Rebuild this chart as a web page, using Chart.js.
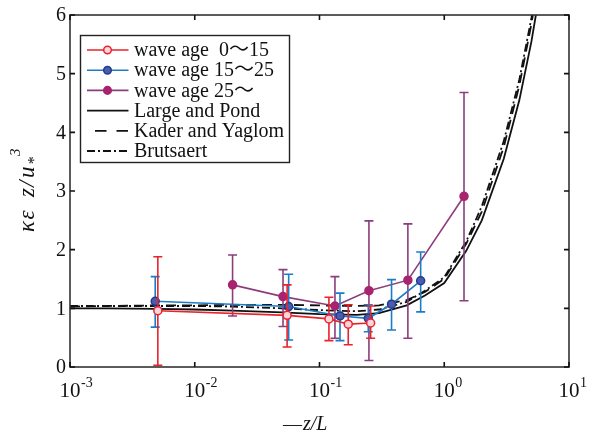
<!DOCTYPE html>
<html><head><meta charset="utf-8">
<script src="https://cdn.jsdelivr.net/npm/chart.js@4/dist/chart.umd.min.js"></script>
<style>html,body{margin:0;padding:0;background:#fff;}canvas{display:block;}</style>
</head><body>
<canvas id="c" width="593" height="437"></canvas>
<script>
// ---- data ----
const xTicks = [0.001, 0.01, 0.1, 1, 10];
const xTickExponents = ['-3', '-2', '-1', '0', '1'];
const yTicks = [0, 1, 2, 3, 4, 5, 6];

const seriesNames = ['wave age\u00a0 0\uFF5E15', 'wave age 15\uFF5E25', 'wave age 25\uFF5E'];
const curveNames = ['Large and Pond', 'Kader and Yaglom', 'Brutsaert'];

const redX  = [0.00506, 0.055, 0.119, 0.17, 0.257];
const redY  = [0.96, 0.88, 0.82, 0.73, 0.75];
const redHi = [1.88, 1.40, 1.19, 1.06, 1.04];
const redLo = [0.03, 0.34, 0.45, 0.38, 0.49];

const blueX  = [0.00482, 0.0566, 0.146, 0.246, 0.378, 0.647];
const blueY  = [1.12, 1.03, 0.87, 0.83, 1.07, 1.47];
const blueHi = [1.54, 1.58, 1.26, 1.06, 1.49, 1.96];
const blueLo = [0.68, 0.46, 0.45, 0.60, 0.63, 0.94];

const purpleX  = [0.0201, 0.051, 0.133, 0.249, 0.511, 1.44];
const purpleY  = [1.40, 1.20, 1.04, 1.30, 1.48, 2.91];
const purpleHi = [1.91, 1.66, 1.54, 2.49, 2.44, 4.68];
const purpleLo = [0.87, 0.69, 0.49, 0.11, 0.49, 1.13];

const curveX = [0.001, 0.002, 0.005, 0.01, 0.02, 0.05, 0.1, 0.2, 0.3, 0.5, 0.7, 1, 1.5, 2, 3, 4, 5, 6];
const largePondY   = [1.00, 1.00, 0.99, 0.98, 0.96, 0.93, 0.90, 0.89, 0.92, 1.05, 1.22, 1.43, 1.98, 2.50, 3.55, 4.55, 5.55, 6.55];
const kaderYaglomY = [1.03, 1.04, 1.05, 1.05, 1.06, 1.06, 1.05, 1.04, 1.05, 1.14, 1.28, 1.50, 2.10, 2.65, 3.75, 4.80, 5.85, 6.90];
const brutsaertY   = [1.04, 1.04, 1.04, 1.04, 1.03, 1.00, 0.97, 0.95, 0.98, 1.11, 1.30, 1.53, 2.14, 2.74, 3.85, 4.90, 5.95, 7.00];

// ---- styles ----
const RED = '#e8232b', BLUE = '#1c7cc8', PURPLE = '#8c3d7c';
const SERIF = '"Liberation Serif", "Times New Roman", "Noto Sans CJK SC", serif';

const pts = (xs, ys) => xs.map((v, i) => ({x: v, y: ys[i]}));

const errSets = {
  0: {x: redX, lo: redLo, hi: redHi, color: RED},
  1: {x: blueX, lo: blueLo, hi: blueHi, color: BLUE},
  2: {x: purpleX, lo: purpleLo, hi: purpleHi, color: PURPLE}
};

const errorBarPlugin = {
  id: 'errorBars',
  beforeDatasetDraw(chart, args) {
    const s = errSets[args.index];
    if (!s) return;
    const {ctx, chartArea: a, scales: {x, y}} = chart;
    ctx.save();
    ctx.beginPath(); ctx.rect(a.left, a.top, a.right - a.left, a.bottom - a.top); ctx.clip();
    ctx.strokeStyle = s.color; ctx.lineWidth = 1.6;
    s.x.forEach((xv, i) => {
      const px = x.getPixelForValue(xv);
      const pl = y.getPixelForValue(s.lo[i]), ph = y.getPixelForValue(s.hi[i]);
      ctx.beginPath();
      ctx.moveTo(px, pl); ctx.lineTo(px, ph);
      ctx.moveTo(px - 4.5, pl); ctx.lineTo(px + 4.5, pl);
      ctx.moveTo(px - 4.5, ph); ctx.lineTo(px + 4.5, ph);
      ctx.stroke();
    });
    ctx.restore();
  }
};

const decorPlugin = {
  id: 'decor',
  afterDraw(chart) {
    const {ctx, chartArea: a, scales: {x, y}} = chart;
    ctx.save();
    // frame
    ctx.strokeStyle = '#333'; ctx.lineWidth = 1.6;
    ctx.strokeRect(a.left, a.top, a.right - a.left, a.bottom - a.top);
    // ticks (inside)
    ctx.strokeStyle = '#111'; ctx.lineWidth = 1.6;
    ctx.beginPath();
    xTicks.forEach(v => {
      const px = x.getPixelForValue(v);
      ctx.moveTo(px, a.bottom); ctx.lineTo(px, a.bottom - 5);
      ctx.moveTo(px, a.top); ctx.lineTo(px, a.top + 5);
    });
    yTicks.forEach(v => {
      const py = y.getPixelForValue(v);
      ctx.moveTo(a.left, py); ctx.lineTo(a.left + 5, py);
      ctx.moveTo(a.right, py); ctx.lineTo(a.right - 5, py);
    });
    ctx.stroke();

    // y tick labels
    ctx.fillStyle = '#111';
    ctx.font = '20px ' + SERIF;
    ctx.textAlign = 'right'; ctx.textBaseline = 'middle';
    yTicks.forEach(v => ctx.fillText(String(v), a.left - 4, y.getPixelForValue(v) + 1));

    // x tick labels 10^n
    xTicks.forEach((v, i) => {
      const px = x.getPixelForValue(v);
      ctx.font = '21px ' + SERIF;
      ctx.textAlign = 'center'; ctx.textBaseline = 'alphabetic';
      const w = ctx.measureText('10').width;
      ctx.fillText('10', px, a.bottom + 30);
      ctx.font = '14px ' + SERIF;
      ctx.textAlign = 'left';
      ctx.fillText(xTickExponents[i], px + w / 2 + 0.5, a.bottom + 20);
    });

    // x title
    ctx.textBaseline = 'alphabetic'; ctx.textAlign = 'left';
    ctx.font = '19px ' + SERIF;
    const dashW = ctx.measureText('\u2014').width;
    const tx = 283;
    ctx.fillText('\u2014', tx, 430);
    ctx.font = 'italic 20px ' + SERIF;
    ctx.fillText('z/L', tx + dashW + 1, 430);

    // y title (rotated), glyphs spaced as in the reference
    ctx.save();
    ctx.translate(34, 232);
    ctx.rotate(-Math.PI / 2);
    ctx.textAlign = 'left';
    ctx.font = 'italic 23px ' + SERIF;
    const glyphs = [['\u03BA', 0], ['\u03B5', 12.5], ['z', 35], ['/', 45], ['u', 54]];
    glyphs.forEach(([g, off]) => ctx.fillText(g, off, 0));
    ctx.font = 'italic 16px ' + SERIF;
    ctx.fillText('*', 67, 5);
    ctx.font = 'italic 15px ' + SERIF;
    ctx.fillText('3', 76, -14);
    ctx.restore();

    // legend
    const L = 80.5, T = 35.5, R = 289.5, B = 162.5;
    ctx.fillStyle = '#fff';
    ctx.fillRect(L, T, R - L, B - T);
    ctx.strokeStyle = '#222'; ctx.lineWidth = 1.4;
    ctx.strokeRect(L, T, R - L, B - T);
    const rows = [
      {label: seriesNames[0], color: RED, marker: 'open'},
      {label: seriesNames[1], color: BLUE, marker: 'blue'},
      {label: seriesNames[2], color: PURPLE, marker: 'purple'},
      {label: curveNames[0], color: '#111', dash: []},
      {label: curveNames[1], color: '#111', dash: [11.5, 10], offset: -8},
      {label: curveNames[2], color: '#111', dash: [8, 3, 2, 3]}
    ];
    rows.forEach((r, i) => {
      const cy = 50 + i * 20.2;
      ctx.save();
      ctx.strokeStyle = r.color; ctx.lineWidth = r.marker ? 1.6 : 1.8;
      ctx.setLineDash(r.dash || []);
      ctx.lineDashOffset = r.offset || 0;
      ctx.beginPath(); ctx.moveTo(87, cy); ctx.lineTo(128.5, cy); ctx.stroke();
      ctx.restore();
      if (r.marker) {
        ctx.save();
        ctx.beginPath(); ctx.arc(107.5, cy, 3.8, 0, Math.PI * 2);
        if (r.marker === 'open') { ctx.fillStyle = '#fbd3dc'; ctx.strokeStyle = RED; }
        else if (r.marker === 'blue') { ctx.fillStyle = '#4a5cae'; ctx.strokeStyle = '#243a8c'; }
        else { ctx.fillStyle = '#a8246f'; ctx.strokeStyle = '#a8246f'; }
        ctx.lineWidth = 1.5; ctx.fill(); ctx.stroke();
        ctx.restore();
      }
      ctx.fillStyle = '#111';
      ctx.font = '20px ' + SERIF;
      ctx.textAlign = 'left'; ctx.textBaseline = 'middle';
      ctx.fillText(r.label, 134, cy + 1);
    });
    ctx.restore();
  }
};

const dataLine = (label, xs, ys, color, fill, border) => ({
  label, data: pts(xs, ys), borderColor: color, borderWidth: 1.6,
  pointRadius: 4, pointBorderWidth: 1.5, pointBackgroundColor: fill, pointBorderColor: border,
  tension: 0, fill: false
});
const curve = (label, xs, ys, dash) => ({
  label, data: pts(xs, ys), borderColor: '#111', borderWidth: 1.8, borderDash: dash,
  pointRadius: 0, tension: 0, fill: false
});

new Chart(document.getElementById('c'), {
  type: 'line',
  data: {
    datasets: [
      dataLine(seriesNames[0], redX, redY, RED, '#fbd3dc', RED),
      dataLine(seriesNames[1], blueX, blueY, BLUE, '#4a5cae', '#243a8c'),
      dataLine(seriesNames[2], purpleX, purpleY, PURPLE, '#a8246f', '#a8246f'),
      curve(curveNames[0], curveX, largePondY, []),
      curve(curveNames[1], curveX, kaderYaglomY, [10, 6]),
      curve(curveNames[2], curveX, brutsaertY, [8, 3, 2, 3])
    ]
  },
  options: {
    responsive: false, animation: false, devicePixelRatio: 1,
    layout: {padding: {left: 70, right: 24, top: 15, bottom: 70}},
    plugins: {legend: {display: false}, tooltip: {enabled: false}},
    scales: {
      x: {type: 'logarithmic', min: 0.001, max: 10, display: false},
      y: {type: 'linear', min: 0, max: 6, display: false}
    }
  },
  plugins: [errorBarPlugin, decorPlugin]
});
</script>
</body></html>
